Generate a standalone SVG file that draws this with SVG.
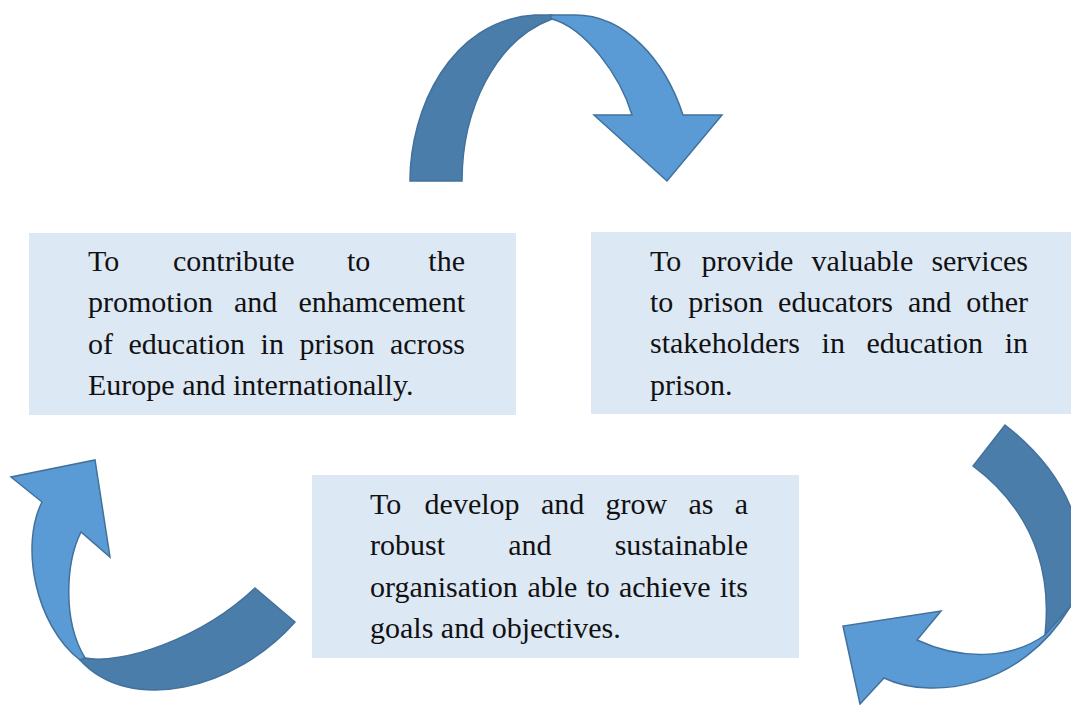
<svg xmlns="http://www.w3.org/2000/svg" width="1071" height="705" viewBox="0 0 1071 705">
<style>
.box{fill:#DDE8F5}
.t{font-family:"Liberation Serif","Times New Roman",serif;font-size:30px;fill:#111}
.e{text-anchor:end}
.lt{fill:#5B9BD5;stroke:#41719C;stroke-width:1.5;stroke-linejoin:miter}
.dk{fill:#4A7DAA;stroke:#41719C;stroke-width:1.5;stroke-linejoin:miter}
</style>
<rect width="1071" height="705" fill="#ffffff"/>
<g id="connectors">
  <g id="arrow-top">
    <path class="dk" d="M410,181 C410,110 450,20 535,15 L552,15 L552,19 C495,40 462,110 462,181 Z"/>
    <path class="lt" d="M550,15 L575,15 C625,15 665,60 683,115 L722,115 L667,181 L594,115 L632,115 C620,75 585,28 552,19 Z"/>
  </g>
  <g id="arrow-right">
    <path class="dk" d="M1005,425 C1065,472 1100,540 1070,607 L1045,635 C1050,590 1045,520 973,466 Z"/>
    <path class="lt" d="M917,640 L941,611 L843,626 L860,704 L884,678 C930,700 1020,690 1070,607 L1045,635 C1010,660 960,660 917,640 Z"/>
  </g>
  <g id="arrow-left">
    <path class="lt" d="M42,502 L11,477 L95,460 L110,557 L81,532 C66,562 62,620 85,658 L80,660 C35,625 20,545 42,502 Z"/>
    <path class="dk" d="M255,588 L295,622 C235,690 130,715 80,660 L85,658 C120,665 200,640 255,588 Z"/>
  </g>
</g>
<g id="node-1">
  <rect class="box" x="29" y="233" width="487" height="182"/>
  <text class="t" y="271"><tspan x="88">To</tspan><tspan x="173">contribute</tspan><tspan x="347">to</tspan><tspan class="e" x="465">the</tspan></text>
  <text class="t" y="312"><tspan x="88">promotion</tspan><tspan x="234">and</tspan><tspan class="e" x="465">enhamcement</tspan></text>
  <text class="t" y="354"><tspan x="88">of</tspan><tspan x="128.5">education</tspan><tspan x="260.6">in</tspan><tspan x="299.4">prison</tspan><tspan class="e" x="465">across</tspan></text>
  <text class="t" x="88" y="395">Europe and internationally.</text>
</g>
<g id="node-2">
  <rect class="box" x="591" y="232" width="480" height="182"/>
  <text class="t" y="271"><tspan x="650">To</tspan><tspan x="701.6">provide</tspan><tspan x="811.6">valuable</tspan><tspan class="e" x="1028">services</tspan></text>
  <text class="t" y="312"><tspan x="650">to</tspan><tspan x="688.2">prison</tspan><tspan x="778.1">educators</tspan><tspan x="908">and</tspan><tspan class="e" x="1028">other</tspan></text>
  <text class="t" y="353"><tspan x="650">stakeholders</tspan><tspan x="821.6">in</tspan><tspan x="866.5">education</tspan><tspan class="e" x="1028">in</tspan></text>
  <text class="t" x="650" y="395">prison.</text>
</g>
<g id="node-3">
  <rect class="box" x="312" y="475" width="487" height="183"/>
  <text class="t" y="514"><tspan x="370">To</tspan><tspan x="424.6">develop</tspan><tspan x="540.9">and</tspan><tspan x="605.5">grow</tspan><tspan x="688.5">as</tspan><tspan class="e" x="748">a</tspan></text>
  <text class="t" y="555"><tspan x="370">robust</tspan><tspan x="508.2">and</tspan><tspan class="e" x="748">sustainable</tspan></text>
  <text class="t" y="597"><tspan x="370">organisation</tspan><tspan x="527.4">able</tspan><tspan x="586.5">to</tspan><tspan x="618.9">achieve</tspan><tspan class="e" x="748">its</tspan></text>
  <text class="t" x="370" y="638">goals and objectives.</text>
</g>
</svg>
